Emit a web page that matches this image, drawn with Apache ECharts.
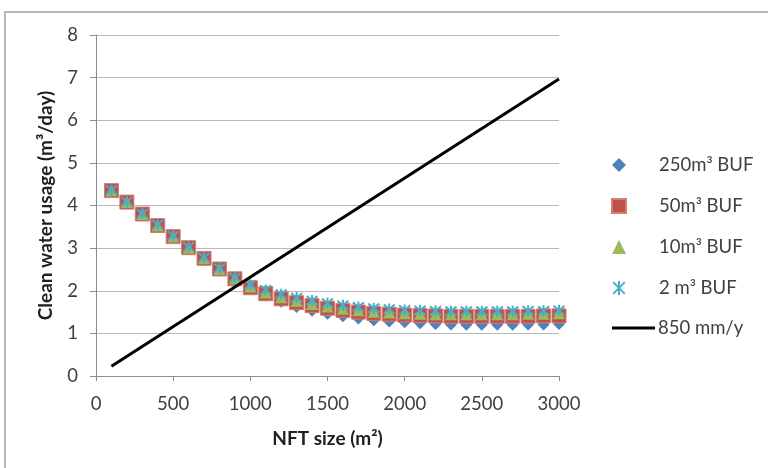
<!DOCTYPE html>
<html>
<head>
<meta charset="utf-8">
<script src="https://cdn.jsdelivr.net/npm/echarts@6/dist/echarts.min.js"></script>
<style>html,body{margin:0;padding:0;background:#fff;}#c{width:768px;height:468px;}</style>
</head>
<body>
<div id="c"></div>
<script>
var nftSize = [100,200,300,400,500,600,700,800,900,1000,1100,1200,1300,1400,1500,1600,1700,1800,1900,2000,2100,2200,2300,2400,2500,2600,2700,2800,2900,3000];
var buf250 = [4.35,4.08,3.80,3.53,3.27,3.01,2.76,2.50,2.26,2.04,1.88,1.74,1.62,1.53,1.46,1.40,1.35,1.31,1.28,1.26,1.24,1.22,1.21,1.20,1.20,1.20,1.20,1.21,1.21,1.22];
var buf50  = [4.35,4.08,3.80,3.53,3.27,3.01,2.76,2.51,2.28,2.07,1.93,1.81,1.72,1.65,1.59,1.54,1.50,1.47,1.45,1.43,1.42,1.41,1.40,1.40,1.40,1.40,1.40,1.40,1.41,1.41];
var buf10  = [4.35,4.08,3.80,3.53,3.27,3.01,2.76,2.51,2.29,2.10,1.96,1.85,1.76,1.69,1.63,1.58,1.54,1.51,1.49,1.47,1.46,1.45,1.45,1.45,1.45,1.45,1.45,1.46,1.46,1.47];
var buf2   = [4.36,4.09,3.81,3.55,3.29,3.03,2.78,2.53,2.31,2.14,2.02,1.92,1.84,1.77,1.71,1.66,1.62,1.59,1.57,1.55,1.54,1.53,1.52,1.52,1.52,1.52,1.52,1.53,1.53,1.54];
var lineX = [100, 3000];
var lineY = [0.23, 6.97];
var seriesNames = ['250m³ BUF','50m³ BUF','10m³ BUF','2 m³ BUF','850 mm/y'];
var xTicks = {min:0, max:3000, interval:500};
var yTicks = {min:0, max:8, interval:1};

function pairs(xs, ys){ return xs.map(function(x,i){return [x, ys[i]];}); }

var FONT = 'Lato, "Open Sans", sans-serif';
var TXT = '#404040';
var asterisk = 'path://M0,0L10,10M10,0L0,10M5,-1L5,11';

var chart = echarts.init(document.getElementById('c'), null, {renderer:'canvas'});
chart.setOption({
  animation:false,
  backgroundColor:'#fff',
  textStyle:{fontFamily:FONT},
  graphic:[{type:'rect', shape:{x:5, y:12, width:900, height:600}, style:{fill:'none', stroke:'#a0a0a0', lineWidth:1.5}, z:-10}],
  grid:{left:96, right:209, top:35, bottom:92},
  xAxis:{type:'value', min:xTicks.min, max:xTicks.max, interval:xTicks.interval,
    name:'NFT size (m²)', nameLocation:'middle', nameGap:53,
    nameTextStyle:{fontFamily:FONT, fontSize:19, fontWeight:'bold', color:'#202020'},
    axisLine:{show:true, lineStyle:{color:'#8c8c8c', width:1}},
    axisTick:{show:true, length:5, lineStyle:{color:'#8c8c8c'}},
    axisLabel:{fontFamily:FONT, fontSize:18.5, color:TXT, margin:19, formatter:function(v){return String(v);}},
    splitLine:{show:false}},
  yAxis:{type:'value', min:yTicks.min, max:yTicks.max, interval:yTicks.interval,
    name:'Clean water usage (m³/day)', nameLocation:'middle', nameGap:41,
    nameTextStyle:{fontFamily:FONT, fontSize:19, fontWeight:'bold', color:'#202020'},
    axisLine:{show:true, lineStyle:{color:'#8c8c8c', width:1}},
    axisTick:{show:true, length:6, lineStyle:{color:'#8c8c8c'}},
    axisLabel:{fontFamily:FONT, fontSize:18.5, color:TXT, margin:18},
    splitLine:{show:true, lineStyle:{color:'#b8b8b8', width:1}}},
  legend:[{
    orient:'vertical', left:606, top:150, itemWidth:14, itemHeight:14, itemGap:21,
    data:seriesNames.slice(0,4),
    textStyle:{fontFamily:FONT, fontSize:18.5, lineHeight:20, color:TXT, padding:[0,0,0,28]}
  },{
    orient:'vertical', left:607, top:313, itemWidth:43, itemHeight:3,
    data:[{name:seriesNames[4], icon:'rect'}],
    itemStyle:{color:'#000'},
    textStyle:{fontFamily:FONT, fontSize:18.5, lineHeight:20, color:TXT, padding:[0,0,0,-2]}
  }],
  series:[
    {name:seriesNames[0], type:'scatter', symbol:'diamond', symbolSize:12, data:pairs(nftSize, buf250),
      itemStyle:{color:'#4F81BD', opacity:1}},
    {name:seriesNames[1], type:'scatter', symbol:'rect', symbolSize:14, data:pairs(nftSize, buf50),
      itemStyle:{color:'#C0504D', borderColor:'#D0806E', borderWidth:1, opacity:1}},
    {name:seriesNames[2], type:'scatter', symbol:'triangle', symbolSize:12, data:pairs(nftSize, buf10),
      itemStyle:{color:'#9BBB59', opacity:1}},
    {name:seriesNames[3], type:'scatter', symbol:asterisk, symbolSize:11, data:pairs(nftSize, buf2),
      itemStyle:{color:'rgba(0,0,0,0)', borderColor:'#4BACC6', borderWidth:2, opacity:1}},
    {name:seriesNames[4], type:'line', symbol:'none', data:pairs(lineX, lineY),
      lineStyle:{color:'#000', width:3}, itemStyle:{color:'#000'}, z:5}
  ]
});
</script>
</body>
</html>
